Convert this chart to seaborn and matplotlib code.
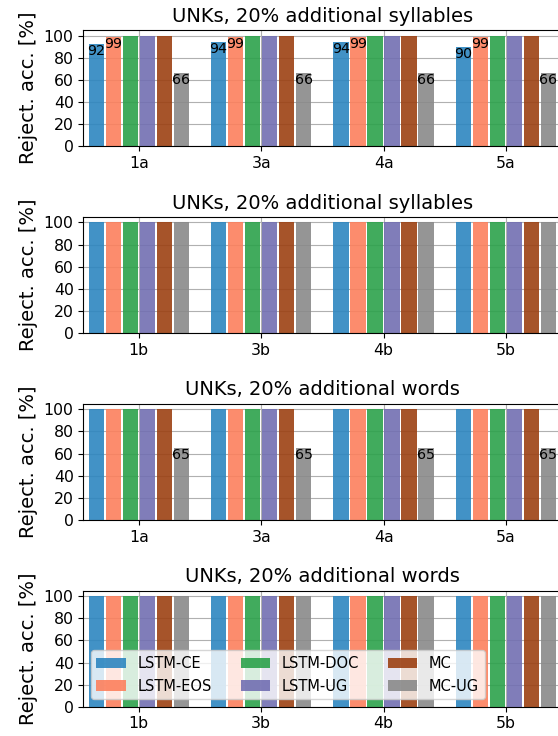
import matplotlib
matplotlib.use("Agg")
import matplotlib.pyplot as plt
from matplotlib.patches import Patch
import seaborn as sns
import pandas as pd

series = ["LSTM-CE", "LSTM-EOS", "LSTM-DOC", "LSTM-UG", "MC", "MC-UG"]
colors = ["#2d86c0", "#fc805d", "#2ca24b", "#726fb2", "#9c4113", "#8a8a8a"]

cats_a = ["1a", "3a", "4a", "5a"]
cats_b = ["1b", "3b", "4b", "5b"]

title_syl = "UNKs, 20% additional syllables"
title_words = "UNKs, 20% additional words"

# panel 1: syllables, a
p1_ce = [92, 94, 94, 90]
p1_eos = [99, 99, 99, 99]
p1_doc = [100, 100, 100, 100]
p1_ug = [100, 100, 100, 100]
p1_mc = [100, 100, 100, 100]
p1_mcug = [66, 66, 66, 66]

# panel 2: syllables, b
p2_ce = [100, 100, 100, 100]
p2_eos = [100, 100, 100, 100]
p2_doc = [100, 100, 100, 100]
p2_ug = [100, 100, 100, 100]
p2_mc = [100, 100, 100, 100]
p2_mcug = [100, 100, 100, 100]

# panel 3: words, a
p3_ce = [100, 100, 100, 100]
p3_eos = [100, 100, 100, 100]
p3_doc = [100, 100, 100, 100]
p3_ug = [100, 100, 100, 100]
p3_mc = [100, 100, 100, 100]
p3_mcug = [65, 65, 65, 65]

# panel 4: words, b
p4_ce = [100, 100, 100, 100]
p4_eos = [100, 100, 100, 100]
p4_doc = [100, 100, 100, 100]
p4_ug = [100, 100, 100, 100]
p4_mc = [100, 100, 100, 100]
p4_mcug = [100, 100, 100, 100]

panels = [
    (title_syl, cats_a, [p1_ce, p1_eos, p1_doc, p1_ug, p1_mc, p1_mcug]),
    (title_syl, cats_b, [p2_ce, p2_eos, p2_doc, p2_ug, p2_mc, p2_mcug]),
    (title_words, cats_a, [p3_ce, p3_eos, p3_doc, p3_ug, p3_mc, p3_mcug]),
    (title_words, cats_b, [p4_ce, p4_eos, p4_doc, p4_ug, p4_mc, p4_mcug]),
]

W, H = 558, 736
fig = plt.figure(figsize=(W / 100, H / 100), dpi=100)

ax_left = 83.3
ax_width = 478.0
ax_h = 116.0
tops = [30.0, 216.9, 403.8, 590.7]
BAR_ALPHA = 0.9

for i, (title, cats, vals) in enumerate(panels):
    ax = fig.add_axes([ax_left / W, 1 - (tops[i] + ax_h) / H, ax_width / W, ax_h / H])
    rows = []
    for s, v in zip(series, vals):
        for c, x in zip(cats, v):
            rows.append({"cat": c, "series": s, "val": x})
    df = pd.DataFrame(rows)
    sns.barplot(data=df, x="cat", y="val", hue="series", order=cats,
                hue_order=series, palette=colors, saturation=1,
                width=0.833, gap=0.1, linewidth=0, alpha=BAR_ALPHA,
                legend=False, ax=ax, zorder=2)
    ax.set_axisbelow(True)
    ax.xaxis.grid(True, color="#b0b0b0", linewidth=0.8)
    ax.yaxis.grid(True, color="#b0b0b0", linewidth=0.8)
    ax.set_xlim(-0.4525, len(cats) - 1 + 0.4525)
    ax.set_ylim(0, 105)
    ax.set_yticks([0, 20, 40, 60, 80, 100])
    ax.tick_params(axis="both", labelsize=11.3)
    ax.set_xlabel("")
    ax.set_ylabel("Reject. acc. [%]", fontsize=14)
    ax.set_title(title, fontsize=14)
    for sp in ax.spines.values():
        sp.set_color("black")
    for cont, v in zip(ax.containers, vals):
        for patch, val in zip(cont.patches, v):
            if val < 100:
                ax.text(patch.get_x() + patch.get_width() / 2, patch.get_height(),
                        str(val), ha="center", va="top", fontsize=10.3, zorder=5)
    if i == 3:
        handles = [Patch(facecolor=c, alpha=BAR_ALPHA, label=s) for s, c in zip(series, colors)]
        ax.legend(handles=handles, loc="lower left", ncol=3, fontsize=10.5)

fig.savefig("out.png", dpi=100)
